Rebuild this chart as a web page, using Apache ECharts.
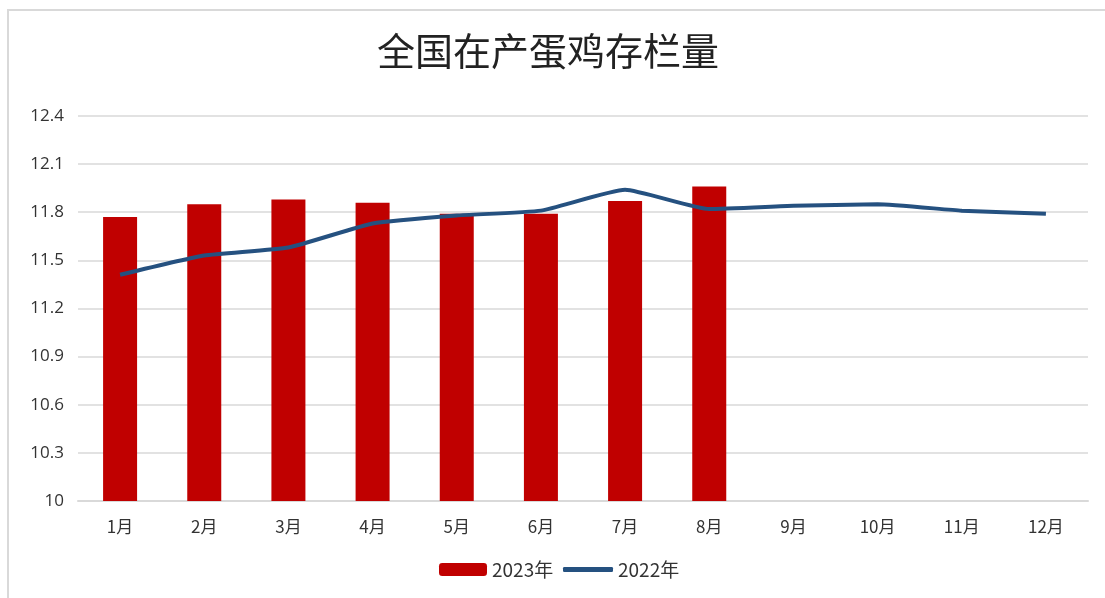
<!DOCTYPE html>
<html>
<head>
<meta charset="utf-8">
<script src="https://cdn.jsdelivr.net/npm/echarts@6/dist/echarts.min.js"></script>
<style>
  html, body { margin: 0; padding: 0; background: #fff; }
  #chart { width: 1105px; height: 598px; }
</style>
</head>
<body>
<div id="chart"></div>
<script>
const months = ['1月', '2月', '3月', '4月', '5月', '6月', '7月', '8月', '9月', '10月', '11月', '12月'];
const stock2023 = [11.77, 11.85, 11.88, 11.86, 11.79, 11.79, 11.87, 11.96];
const stock2022 = [11.41, 11.53, 11.58, 11.73, 11.78, 11.81, 11.94, 11.82, 11.84, 11.85, 11.81, 11.79];
const yTicks = [10, 10.3, 10.6, 10.9, 11.2, 11.5, 11.8, 12.1, 12.4];

const legendText = {
  fontFamily: 'Noto Sans CJK SC',
  fontSize: 19,
  color: '#333'
};

const chart = echarts.init(document.getElementById('chart'));

chart.setOption({
  animation: false,
  graphic: [
    {
      type: 'rect',
      shape: { x: 8, y: 10, width: 1200, height: 700 },
      style: { fill: 'none', stroke: '#d9d9d9', lineWidth: 2 },
      silent: true
    }
  ],
  title: {
    text: '全国在产蛋鸡存栏量',
    left: 372,
    top: 27,
    textStyle: {
      fontFamily: 'Noto Sans CJK SC',
      fontSize: 38,
      fontWeight: 'normal',
      color: '#222'
    }
  },
  // two legends so the line key can be a thin bar
  legend: [
    {
      left: 439,
      top: 560,
      padding: 0,
      itemWidth: 48,
      itemHeight: 13,
      itemGap: 6,
      textStyle: legendText,
      data: ['2023年']
    },
    {
      left: 563,
      top: 560,
      padding: 0,
      itemWidth: 50,
      itemHeight: 5,
      icon: 'roundRect',
      textStyle: legendText,
      data: ['2022年']
    }
  ],
  grid: {
    left: 78,
    right: 17,
    top: 116,
    bottom: 97
  },
  xAxis: {
    type: 'category',
    data: months,
    axisTick: { show: false },
    axisLine: { lineStyle: { color: '#d9d9d9', width: 2 } },
    axisLabel: {
      margin: 17,
      fontFamily: 'Noto Sans CJK SC',
      fontSize: 17,
      color: '#333'
    }
  },
  yAxis: {
    type: 'value',
    min: 10,
    max: 12.4,
    axisLine: { show: false },
    axisTick: { show: false, customValues: yTicks },
    axisLabel: {
      customValues: yTicks,
      margin: 14,
      fontFamily: 'Open Sans',
      fontSize: 17,
      color: '#333'
    },
    splitLine: { lineStyle: { color: '#d9d9d9', width: 1.5 } }
  },
  series: [
    {
      name: '2023年',
      type: 'bar',
      data: stock2023,
      barWidth: 34,
      itemStyle: { color: '#c00000' }
    },
    {
      name: '2022年',
      type: 'line',
      data: stock2022,
      smooth: 0.15,
      symbol: 'none',
      lineStyle: { color: '#255180', width: 4 },
      itemStyle: { color: '#255180' }
    }
  ]
});
</script>
</body>
</html>
